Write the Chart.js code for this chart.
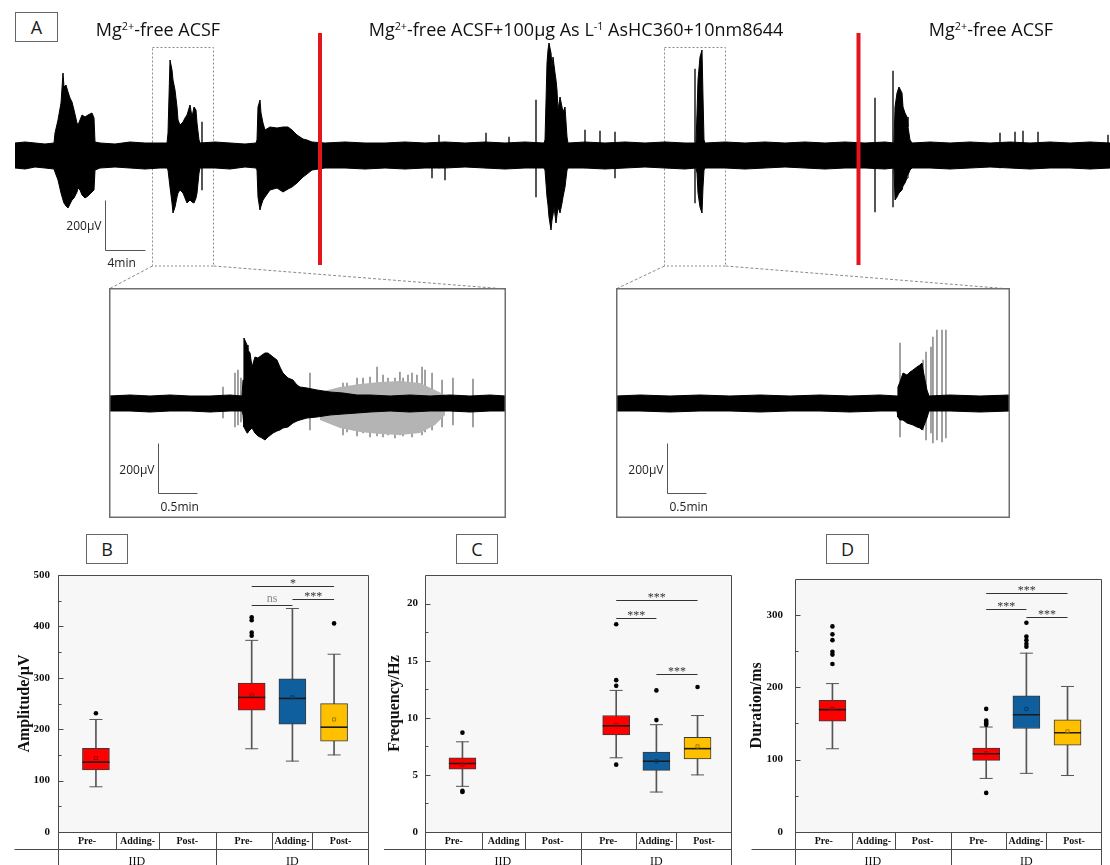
<!DOCTYPE html>
<html>
<head>
<meta charset="utf-8">
<script src="https://cdn.jsdelivr.net/npm/chart.js@4.4.1/dist/chart.umd.min.js"></script>
<style>
html,body{margin:0;padding:0;background:#fff;}
body{width:1110px;height:865px;overflow:hidden;position:relative;font-family:"Open Sans",sans-serif;color:#111;}
canvas{position:absolute;display:block;}
.tag{position:absolute;border:1px solid #666;background:#fff;font-size:18px;line-height:18px;color:#1a1a1a;display:flex;align-items:center;justify-content:center;box-sizing:border-box;}
.cond{position:absolute;top:18px;font-size:18px;line-height:22px;white-space:nowrap;transform:translateX(-50%);color:#111;}
.cond sup{font-size:0.6em;vertical-align:0;position:relative;top:-0.6em;}
</style>
</head>
<body>
<canvas id="trace" width="1110" height="290" style="left:0;top:0"></canvas>
<canvas id="zoomA" width="397" height="230" style="left:109px;top:288px"></canvas>
<canvas id="zoomB" width="394" height="230" style="left:616px;top:288px"></canvas>
<canvas id="amp" width="384" height="305" style="left:0;top:560px"></canvas>
<canvas id="freq" width="363" height="305" style="left:384px;top:560px"></canvas>
<canvas id="dur" width="370" height="305" style="left:747px;top:560px"></canvas>

<div class="tag" style="left:15px;top:12px;width:43px;height:30px">A</div>
<div class="cond" style="left:158px">Mg<sup>2+</sup>-free ACSF</div>
<div class="cond" style="left:576px">Mg<sup>2+</sup>-free ACSF+100μg As L<sup>-1</sup> AsHC360+10nm8644</div>
<div class="cond" style="left:991px">Mg<sup>2+</sup>-free ACSF</div>
<div class="tag" style="left:86px;top:534px;width:42px;height:30px">B</div>
<div class="tag" style="left:456px;top:534px;width:42px;height:30px">C</div>
<div class="tag" style="left:826px;top:534px;width:43px;height:30px">D</div>

<script>
// ---------- Field potential recording (time in min, envelope edges in µV) ----------
const traceTime = [0,1,2,3,3.9,
  4,4.3,4.6,4.8,4.9,5.1,5.3,5.5,5.7,5.9,6.2,6.3,6.5,6.7,7,7.3,7.7,7.9,8,
  8.5,10,11.5,13,14.5,15.2,
  15.3,15.5,15.7,15.8,16,16.2,16.3,16.5,16.8,17,17.2,17.5,17.7,17.9,18.1,18.2,18.4,18.5,
  20,21.5,23,24.1,
  24.2,24.3,24.5,24.6,24.8,25,25.5,26.2,26.8,27.3,27.7,28.2,28.5,28.8,29.2,29.7,
  31,33,35,37,39,41,43,45,47,49,51,52.9,
  53,53.2,53.3,53.4,53.6,53.7,53.8,53.9,54,54.1,54.2,54.3,54.5,54.7,54.8,55,55.2,55.3,
  57,59,61,63,65,67,68.1,
  68.2,68.3,68.5,68.7,68.8,68.9,69,
  71,73,75,77,79,81,83,85,87,87.9,
  88,88.2,88.4,88.7,88.8,89,89.2,89.3,89.5,89.7,
  91.5,93.5,95.5,97.5,99.5,101.5,103.5,105.5,107.5,109.5];
const traceUpper = [50,54,50,46,50,
  90,142,210,330,274,282,254,230,214,182,130,122,142,162,154,162,170,150,54,
  50,46,54,50,50,50,
  90,382,342,302,262,194,142,122,134,150,162,202,154,194,182,130,62,50,
  54,50,46,50,
  62,194,222,170,130,102,114,110,114,114,102,82,74,66,62,54,
  50,54,50,50,54,50,54,50,54,50,54,50,
  62,370,422,450,410,354,394,362,330,302,262,182,234,194,174,194,74,50,
  54,50,54,50,54,50,50,
  170,302,394,422,234,62,50,
  54,50,54,50,54,50,54,50,54,50,
  194,250,274,250,194,170,154,114,62,50,
  54,50,54,50,54,50,54,50,54,50];
const traceLower = [-50,-54,-46,-50,-54,
  -66,-98,-150,-178,-190,-202,-210,-194,-178,-170,-146,-130,-138,-158,-170,-162,-146,-138,-58,
  -50,-46,-50,-54,-50,-50,
  -58,-126,-190,-230,-206,-166,-150,-138,-150,-170,-190,-178,-186,-190,-170,-150,-70,-50,
  -50,-54,-46,-50,
  -58,-166,-218,-202,-178,-166,-138,-130,-146,-134,-126,-110,-98,-86,-74,-58,
  -50,-50,-54,-50,-54,-50,-50,-46,-50,-54,-50,-50,
  -58,-166,-198,-246,-298,-258,-238,-206,-238,-270,-238,-206,-230,-190,-166,-126,-58,-50,
  -50,-54,-50,-46,-50,-54,-50,
  -70,-150,-206,-230,-126,-58,-50,
  -50,-54,-50,-46,-50,-54,-50,-50,-54,-50,
  -178,-166,-150,-138,-122,-110,-90,-78,-58,-50,
  -50,-54,-50,-46,-50,-54,-50,-50,-54,-50];
// isolated discharges outside the bursts
const spikeTime  = [18.7,41.7,42.4,43.0,47.1,49.4,52.1,57.0,58.5,60.0,68.0,86.0,87.8,98.5,100.0,100.8,102.3,109.3];
const spikeUpper = [134,50,82,50,90,74,222,102,98,94,346,230,338,90,94,98,94,82];
const spikeLower = [-138,-90,-50,-98,-50,-50,-166,-50,-50,-90,-190,-226,-206,-50,-50,-50,-50,-50];
// perfusion switches (min) and the two windows expanded below (min)
const solutionSwitches = [30.5, 84.35];
const zoomWindows = [[13.7, 19.8], [64.9, 71.0]];

// ---------- Expanded window 1 (time in s, µV) ----------
const zoomATime  = [0,16.2,31.5,46.9,62.3,77.7,93.1,102.3,
  103.1,103.8,106.2,106.9,108.5,110,112.3,114.6,117.7,120,122.3,126.2,129.2,131.5,133.8,137.7,141.5,144.6,146.9,152.3,160,170,180,190.8,200.8,
  216.2,231.5,246.9,262.3,277.7,293.1,305.4];
const zoomAUpper = [30,34,30,34,30,30,34,30,
  94,262,234,214,202,146,186,182,194,202,202,186,174,146,122,102,94,74,66,62,54,46,42,34,34,
  30,34,30,34,30,34,30];
const zoomALower = [-30,-30,-34,-30,-30,-34,-30,-30,
  -46,-94,-118,-114,-106,-98,-118,-130,-138,-146,-134,-118,-110,-106,-98,-94,-78,-70,-66,-58,-54,-46,-42,-38,-34,
  -30,-34,-30,-30,-34,-30,-30];
const zoomATailTime  = [162.3,177.7,193.1,208.5,223.8,239.2,250.8,258.5];
const zoomATailUpper = [46,66,78,86,90,82,54,34];
const zoomATailLower = [-66,-98,-114,-122,-126,-118,-86,-46];
const zoomASpikeTime  = [87.7,96.9,99.2,101.5,154.6,180,183.1,190.8,195.4,200.8,206.2,210.8,214.6,220,223.8,226.2,230,233.1,236.9,240.8,243.1,248.5,256.2,264.6,280];
const zoomASpikeUpper = [66,122,134,102,122,82,82,102,102,106,146,114,102,102,126,102,114,122,114,146,134,122,94,102,98];
const zoomASpikeLower = [-58,-94,-86,-74,-106,-126,-114,-130,-118,-134,-130,-134,-126,-138,-126,-130,-118,-134,-114,-126,-114,-106,-94,-86,-94];

// ---------- Expanded window 2 (time in s, µV) ----------
const zoomBTime  = [0,18.5,41.5,64.6,87.7,110.8,133.8,156.9,180,203.1,216.2,
  216.9,218.5,220.8,223.8,226.2,228.5,231.5,233.8,235.4,236.2,237.7,239.2,240.8,
  256.9,280,303.1];
const zoomBUpper = [30,34,30,34,30,34,30,34,30,34,30,
  66,86,122,114,126,134,146,154,162,134,94,54,30,
  34,30,34];
const zoomBLower = [-30,-30,-34,-30,-30,-34,-30,-30,-34,-30,-30,
  -54,-66,-66,-78,-82,-86,-94,-98,-106,-98,-78,-58,-30,
  -30,-34,-30];
const zoomBSpikeTime  = [218.5,236.2,238.5,242.3,243.8,246.9,250.8,253.8];
const zoomBSpikeUpper = [242,174,206,226,266,294,294,294];
const zoomBSpikeLower = [-134,-106,-146,-118,-158,-146,-154,-138];

// ---------- Box plot statistics: IID Pre-, ID Pre-, ID Adding-, ID Post- ----------
const phaseLabelsAmp  = ['Pre-','Adding-','Post-','Pre-','Adding-','Post-'];
const phaseLabelsFreq = ['Pre-','Adding','Post-','Pre-','Adding-','Post-'];
const phaseLabelsDur  = ['Pre-','Adding-','Post-','Pre-','Adding-','Post-'];
const dischargeTypes  = ['IID','ID'];

const ampLow    = [88, 162, 138, 150];
const ampQ1     = [121, 237, 210, 177];
const ampMedian = [136, 262, 260, 204];
const ampQ3     = [163, 290, 298, 250];
const ampHigh   = [219, 373, 435, 346];
const ampMean   = [144, 267, 262, 219];
const ampOutliers = [[231], [382, 388, 412, 418], [], [406]];
const ampTicks  = [0, 500, 100];
const ampSig    = [[1, 3, 479, '*'], [1, 2, 442, 'ns'], [2, 3, 454, '***']];

const freqLow    = [4.0, 6.5, 3.5, 5.0];
const freqQ1     = [5.5, 8.5, 5.4, 6.4];
const freqMedian = [6.0, 9.3, 6.2, 7.3];
const freqQ3     = [6.5, 10.2, 7.0, 8.3];
const freqHigh   = [7.9, 12.4, 9.4, 10.2];
const freqMean   = [5.9, 9.4, 6.2, 7.5];
const freqOutliers = [[8.7, 3.6, 3.5], [18.2, 13.3, 12.8, 5.9], [9.8, 12.4], [12.7]];
const freqTicks  = [0, 22.5, 5];
const freqSig    = [[1, 3, 20.3, '***'], [1, 2, 18.7, '***'], [2, 3, 13.8, '***']];

const durLow    = [115, 74, 81, 78];
const durQ1     = [153, 99, 143, 120];
const durMedian = [169, 108, 162, 137];
const durQ3     = [182, 116, 188, 155];
const durHigh   = [205, 145, 247, 201];
const durMean   = [170, 109, 170, 139];
const durOutliers = [[284, 273, 265, 249, 245, 232], [170, 154, 152, 150, 148, 54], [289, 270, 265, 260, 256], []];
const durTicks  = [0, 350, 100];
const durSig    = [[1, 3, 330, '***'], [1, 2, 308, '***'], [2, 3, 297, '***']];

// ---------- layout & style ----------
const boxSlots  = [12.2, 62.3, 75.4, 88.8];          // box centres, % of plot width
const colEdges  = [18.7, 32.5, 50.7, 68.7, 81.8];    // phase column borders, % of plot width
const groupEdge = 2;
const boxFill   = ['#ff0000', '#ff0000', '#0f5f9f', '#ffc000'];
const meanEdge  = ['#a00000', '#a00000', '#083a66', '#a07800'];
const SERIF = '"Liberation Serif", "Times New Roman", serif';

const pts = (xs, ys) => xs.map((v, i) => ({x: v, y: ys[i]}));
const bars = (xs, lo, hi) => xs.map((v, i) => ({x: v, y: [lo[i], hi[i]]}));
const baseOpts = {responsive: false, animation: false, events: [], devicePixelRatio: 1,
  plugins: {legend: {display: false}, tooltip: {enabled: false}}};

// ---------- main recording ----------
const traceDecor = {
  id: 'traceDecor',
  beforeDatasetsDraw(chart) {
    const {ctx, scales: {x}} = chart;
    ctx.save();
    ctx.strokeStyle = '#8a8a8a'; ctx.lineWidth = 1; ctx.setLineDash([2, 2]);
    zoomWindows.forEach(w => {
      const x0 = Math.round(x.getPixelForValue(w[0])) + 0.5;
      const x1 = Math.round(x.getPixelForValue(w[1])) + 0.5;
      ctx.strokeRect(x0, 47.5, x1 - x0, 218.5);
    });
    ctx.restore();
  },
  afterDatasetsDraw(chart) {
    const {ctx, scales: {x, y}} = chart;
    const frames = [[109, 506], [616, 1010]];
    ctx.save();
    ctx.strokeStyle = '#8a8a8a'; ctx.lineWidth = 1; ctx.setLineDash([3, 2]);
    zoomWindows.forEach((w, i) => {
      const x0 = Math.round(x.getPixelForValue(w[0])) + 0.5;
      const x1 = Math.round(x.getPixelForValue(w[1])) + 0.5;
      ctx.beginPath();
      ctx.moveTo(x0, 266); ctx.lineTo(frames[i][0], 289);
      ctx.moveTo(x1, 266); ctx.lineTo(frames[i][1], 289);
      ctx.stroke();
    });
    ctx.setLineDash([]);
    ctx.strokeStyle = '#e3141b'; ctx.lineWidth = 4;
    solutionSwitches.forEach(t => {
      const px = x.getPixelForValue(t);
      ctx.beginPath(); ctx.moveTo(px, 33); ctx.lineTo(px, 265); ctx.stroke();
    });
    // scale bar: 200 µV / 4 min
    const ox = 105.5, oy = 250.5;
    const w = x.getPixelForValue(4) - x.getPixelForValue(0);
    const h = y.getPixelForValue(0) - y.getPixelForValue(200);
    ctx.strokeStyle = '#555'; ctx.lineWidth = 1;
    ctx.beginPath(); ctx.moveTo(ox, oy - h); ctx.lineTo(ox, oy); ctx.lineTo(ox + w, oy); ctx.stroke();
    ctx.fillStyle = '#222'; ctx.font = '12px "Open Sans"'; ctx.textBaseline = 'middle';
    ctx.textAlign = 'right'; ctx.fillText('200µV', ox - 4, 227);
    ctx.textAlign = 'left'; ctx.fillText('4min', ox + 2, 264);
    ctx.restore();
  }
};

new Chart(document.getElementById('trace'), {
  type: 'line',
  data: {datasets: [
    {type: 'line', data: pts(traceTime, traceUpper), borderColor: '#000', backgroundColor: '#000',
     borderWidth: 1, pointRadius: 0, fill: '+1', order: 1},
    {type: 'line', data: pts(traceTime, traceLower), borderColor: '#000', backgroundColor: '#000',
     borderWidth: 1, pointRadius: 0, fill: false, order: 1},
    {type: 'bar', data: bars(spikeTime, spikeLower, spikeUpper), backgroundColor: '#333',
     barThickness: 1, grouped: false, order: 2}
  ]},
  options: Object.assign({}, baseOpts, {
    layout: {padding: {left: 15, right: 0, top: 40, bottom: 30}},
    scales: {
      x: {type: 'linear', min: 0, max: 109.5, display: false, offset: false},
      y: {type: 'linear', min: -418, max: 462, display: false}
    }
  }),
  plugins: [traceDecor]
});

// ---------- expanded windows ----------
const insetBars = {zoomA: [49, 205], zoomB: [51, 205]};
const insetDecor = {
  id: 'insetDecor',
  afterDraw(chart) {
    const {ctx, scales: {x, y}, width, height} = chart;
    const a = insetBars[chart.canvas.id];
    ctx.save();
    ctx.strokeStyle = '#6e6e6e'; ctx.lineWidth = 1.5;
    ctx.strokeRect(0.75, 0.75, width - 1.5, height - 1.5);
    const w = x.getPixelForValue(30) - x.getPixelForValue(0);
    const h = y.getPixelForValue(0) - y.getPixelForValue(200);
    const ox = a[0] + 0.5, oy = a[1] + 0.5;
    ctx.strokeStyle = '#555'; ctx.lineWidth = 1;
    ctx.beginPath(); ctx.moveTo(ox, oy - h); ctx.lineTo(ox, oy); ctx.lineTo(ox + w, oy); ctx.stroke();
    ctx.fillStyle = '#222'; ctx.font = '12px "Open Sans"'; ctx.textBaseline = 'middle';
    ctx.textAlign = 'right'; ctx.fillText('200µV', ox - 4, oy - 23);
    ctx.textAlign = 'left'; ctx.fillText('0.5min', ox + 2, oy + 14);
    ctx.restore();
  }
};

function insetChart(id, t, up, lo, sT, sU, sL, hT, hU, hL, tMax) {
  const ds = [
    {type: 'line', data: pts(t, up), borderColor: '#000', backgroundColor: '#000', borderWidth: 1, pointRadius: 0, fill: '+1', order: 1},
    {type: 'line', data: pts(t, lo), borderColor: '#000', backgroundColor: '#000', borderWidth: 1, pointRadius: 0, fill: false, order: 1}
  ];
  if (hT) {
    ds.push({type: 'line', data: pts(hT, hU), borderColor: 'rgba(0,0,0,0)', backgroundColor: '#b4b4b4', borderWidth: 0, pointRadius: 0, fill: '+1', order: 2});
    ds.push({type: 'line', data: pts(hT, hL), borderColor: 'rgba(0,0,0,0)', borderWidth: 0, pointRadius: 0, fill: false, order: 2});
  }
  ds.push({type: 'bar', data: bars(sT, sL, sU), backgroundColor: '#8f8f8f', barThickness: 1, grouped: false, order: 3});
  return new Chart(document.getElementById(id), {
    type: 'line',
    data: {datasets: ds},
    options: Object.assign({}, baseOpts, {
      layout: {padding: 0},
      scales: {
        x: {type: 'linear', min: 0, max: tMax, display: false, offset: false},
        y: {type: 'linear', min: -458, max: 462, display: false}
      }
    }),
    plugins: [insetDecor]
  });
}
insetChart('zoomA', zoomATime, zoomAUpper, zoomALower, zoomASpikeTime, zoomASpikeUpper, zoomASpikeLower,
  zoomATailTime, zoomATailUpper, zoomATailLower, 305.4);
insetChart('zoomB', zoomBTime, zoomBUpper, zoomBLower, zoomBSpikeTime, zoomBSpikeUpper, zoomBSpikeLower,
  null, null, null, 303.1);

// ---------- box plot panels ----------
const panelMeta = {};
const panelFrame = {
  id: 'panelFrame',
  beforeDatasetsDraw(chart) {
    const {ctx, chartArea: a} = chart;
    ctx.save(); ctx.fillStyle = '#f7f7f7';
    ctx.fillRect(a.left, a.top, a.right - a.left, a.bottom - a.top);
    ctx.restore();
  },
  afterDraw(chart) {
    const m = panelMeta[chart.canvas.id];
    const {ctx, chartArea: a, scales: {x, y}} = chart;
    const H = chart.height, rowH = 17;
    const L = Math.round(a.left) + 0.5, R = Math.round(a.right) - 0.5;
    const T = Math.round(a.top) + 0.5, B = Math.round(a.bottom) + 0.5;
    ctx.save();
    ctx.strokeStyle = '#4a4a4a'; ctx.lineWidth = 1;
    ctx.beginPath();
    ctx.moveTo(L, T); ctx.lineTo(R, T);
    ctx.moveTo(L, T); ctx.lineTo(L, H);
    ctx.moveTo(R, T); ctx.lineTo(R, H);
    ctx.moveTo(L, B); ctx.lineTo(R, B);
    ctx.moveTo(L - 44, B + rowH); ctx.lineTo(R, B + rowH);
    colEdges.forEach((c, i) => {
      const px = Math.round(x.getPixelForValue(c)) + 0.5;
      ctx.moveTo(px, B); ctx.lineTo(px, i === groupEdge ? H : B + rowH);
    });
    // inward major and minor ticks
    const ticks = y.ticks.map(t => t.value);
    const step = ticks[1] - ticks[0];
    ticks.forEach(v => {
      const py = Math.round(y.getPixelForValue(v)) + 0.5;
      ctx.moveTo(L, py); ctx.lineTo(L + 5, py);
      const mv = v + step / 2;
      if (mv < y.max) {
        const my = Math.round(y.getPixelForValue(mv)) + 0.5;
        ctx.moveTo(L, my); ctx.lineTo(L + 3, my);
      }
    });
    ctx.stroke();
    // phase / discharge-type table
    const edges = [0].concat(colEdges, [100]);
    ctx.fillStyle = '#111'; ctx.textAlign = 'center'; ctx.textBaseline = 'middle';
    ctx.font = 'bold 10px ' + SERIF;
    m.labels.forEach((lab, i) => {
      const cx = (x.getPixelForValue(edges[i]) + x.getPixelForValue(edges[i + 1])) / 2;
      ctx.fillText(lab, cx, B + rowH / 2 + 0.5);
    });
    ctx.font = '12px ' + SERIF;
    const gx = [[0, colEdges[groupEdge]], [colEdges[groupEdge], 100]];
    dischargeTypes.forEach((g, i) => {
      const cx = (x.getPixelForValue(gx[i][0]) + x.getPixelForValue(gx[i][1])) / 2;
      ctx.fillText(g, cx, B + rowH + 12);
    });
    // significance brackets
    ctx.textBaseline = 'alphabetic';
    m.sig.forEach(s => {
      const x0 = x.getPixelForValue(boxSlots[s[0]]), x1 = x.getPixelForValue(boxSlots[s[1]]);
      const py = Math.round(y.getPixelForValue(s[2])) + 0.5;
      const isNs = s[3] === 'ns';
      ctx.strokeStyle = '#333'; ctx.lineWidth = 1.2;
      ctx.beginPath(); ctx.moveTo(x0, py); ctx.lineTo(x1, py); ctx.stroke();
      ctx.fillStyle = isNs ? '#8a8a8a' : '#333';
      ctx.font = '12px ' + SERIF;
      ctx.fillText(s[3], (x0 + x1) / 2, py - (isNs ? 4 : 0));
    });
    ctx.restore();
  }
};

function boxPanel(id, s) {
  panelMeta[id] = {labels: s.labels, sig: s.sig};
  const caps = [], meds = [], means = [], outs = [];
  boxSlots.forEach((p, i) => {
    caps.push({x: p, y: s.low[i]}, {x: p, y: s.high[i]});
    meds.push({x: p, y: s.median[i]});
    means.push({x: p, y: s.mean[i]});
    s.outliers[i].forEach(v => outs.push({x: p, y: v}));
  });
  return new Chart(document.getElementById(id), {
    type: 'bar',
    data: {datasets: [
      {type: 'bar', data: bars(boxSlots, s.low, s.high), backgroundColor: '#555', barThickness: 1, grouped: false, order: 5},
      {type: 'bar', data: bars(boxSlots, s.q1, s.q3), backgroundColor: boxFill, borderColor: '#3a3a3a',
       borderWidth: 1, borderSkipped: false, barThickness: 27, grouped: false, order: 4},
      {type: 'scatter', data: caps, pointStyle: 'line', pointRadius: 6.5, pointBorderColor: '#555', pointBorderWidth: 1, order: 3},
      {type: 'scatter', data: meds, pointStyle: 'line', pointRadius: 13.5, pointBorderColor: '#1a1a1a', pointBorderWidth: 1.6, order: 2},
      {type: 'scatter', data: means, pointStyle: 'rect', pointRadius: 2.2, pointBackgroundColor: 'rgba(0,0,0,0)',
       pointBorderColor: meanEdge, pointBorderWidth: 1, order: 1},
      {type: 'scatter', data: outs, pointStyle: 'circle', pointRadius: 2.3, pointBackgroundColor: '#000', pointBorderColor: '#000', pointBorderWidth: 0, order: 0}
    ]},
    options: Object.assign({}, baseOpts, {
      layout: {padding: {left: 0, right: 1, top: 12, bottom: 33}},
      scales: {
        x: {type: 'linear', min: 0, max: 100, display: false, offset: false},
        y: {type: 'linear', min: s.ticks[0], max: s.ticks[1],
            afterFit(sc) { sc.width = s.axisWidth; },
            grid: {display: false, drawTicks: false}, border: {display: false},
            ticks: {stepSize: s.ticks[2], includeBounds: false, padding: s.tickPad, color: '#111',
                    font: {family: SERIF, weight: 'bold', size: 11}},
            title: {display: true, text: s.title, color: '#111',
                    font: {family: SERIF, weight: 'bold', size: 16}, padding: {top: s.titlePad, bottom: 0}}}
      }
    }),
    plugins: [panelFrame]
  });
}

boxPanel('amp', {labels: phaseLabelsAmp, sig: ampSig, ticks: ampTicks, title: 'Amplitude/µV',
  low: ampLow, q1: ampQ1, median: ampMedian, q3: ampQ3, high: ampHigh, mean: ampMean, outliers: ampOutliers,
  axisWidth: 58, tickPad: 8, titlePad: 15.4});
boxPanel('freq', {labels: phaseLabelsFreq, sig: freqSig, ticks: freqTicks, title: 'Frequency/Hz',
  low: freqLow, q1: freqQ1, median: freqMedian, q3: freqQ3, high: freqHigh, mean: freqMean, outliers: freqOutliers,
  axisWidth: 41, tickPad: 7, titlePad: 1.4});
boxPanel('dur', {labels: phaseLabelsDur, sig: durSig, ticks: durTicks, title: 'Duration/ms',
  low: durLow, q1: durQ1, median: durMedian, q3: durQ3, high: durHigh, mean: durMean, outliers: durOutliers,
  axisWidth: 48, tickPad: 12, titlePad: 0});
</script>
</body>
</html>
